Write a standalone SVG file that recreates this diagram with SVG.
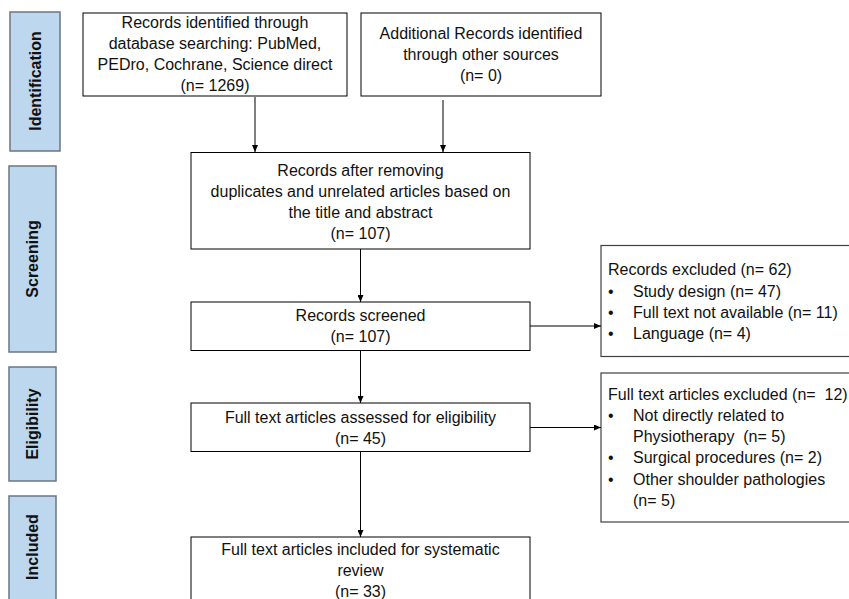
<svg xmlns="http://www.w3.org/2000/svg" width="849" height="599" viewBox="0 0 849 599">
<style>
.bx{fill:#fff;stroke:#000;stroke-width:1}
.ex{fill:#fff;stroke:#404040;stroke-width:1.2}
.side{fill:#BDD7EE;stroke:#6b7683;stroke-width:1.5}
.t{font-family:"Liberation Sans",Arial,sans-serif;font-size:16px;fill:#111;white-space:pre}
.c{text-anchor:middle}
.s{font-family:"Liberation Sans",Arial,sans-serif;font-size:16px;font-weight:bold;fill:#111;text-anchor:middle}
.cn{stroke:#000;stroke-width:1;fill:none;marker-end:url(#ah)}
</style>
<defs>
<marker id="ah" markerWidth="7" markerHeight="6" refX="7" refY="3" orient="auto" markerUnits="userSpaceOnUse">
<path d="M0,0 L7,3 L0,6 Z" fill="#000"/>
</marker>
</defs>
<rect width="849" height="599" fill="#fff"/>
<g id="stage-identification">
<rect class="side" x="10" y="12" width="50" height="139"/>
<text class="s" transform="translate(41,81) rotate(-90)">Identification</text>
</g>
<g id="stage-screening">
<rect class="side" x="9" y="166" width="47" height="186"/>
<text class="s" transform="translate(38,259) rotate(-90)">Screening</text>
</g>
<g id="stage-eligibility">
<rect class="side" x="9" y="367" width="47" height="114"/>
<text class="s" transform="translate(38,424) rotate(-90)">Eligibility</text>
</g>
<g id="stage-included">
<rect class="side" x="9" y="496" width="47" height="120"/>
<text class="s" transform="translate(38,547) rotate(-90)">Included</text>
</g>
<g id="db-records">
<rect class="bx" x="83" y="13" width="264" height="83"/>
<text class="t c" x="215" y="28">Records identified through</text>
<text class="t c" x="215" y="49">database searching: PubMed,</text>
<text class="t c" x="215" y="70">PEDro, Cochrane, Science direct</text>
<text class="t c" x="215" y="91">(n= 1269)</text>
</g>
<g id="other-records">
<rect class="bx" x="361" y="13" width="240" height="83"/>
<text class="t c" x="481" y="39">Additional Records identified</text>
<text class="t c" x="481" y="60">through other sources</text>
<text class="t c" x="481" y="81">(n= 0)</text>
</g>
<g id="after-removing">
<rect class="bx" x="191" y="152.5" width="339" height="96.5"/>
<text class="t c" x="360.5" y="176">Records after removing</text>
<text class="t c" x="360.5" y="197">duplicates and unrelated articles based on</text>
<text class="t c" x="360.5" y="218">the title and abstract</text>
<text class="t c" x="360.5" y="239">(n= 107)</text>
</g>
<g id="screened">
<rect class="bx" x="191" y="302" width="339" height="48.5"/>
<text class="t c" x="360.5" y="321">Records screened</text>
<text class="t c" x="360.5" y="342">(n= 107)</text>
</g>
<g id="excluded-1">
<rect class="ex" x="601" y="245.5" width="260" height="111"/>
<text class="t" x="608" y="275">Records excluded (n= 62)</text>
<text class="t" x="608" y="297">•</text><text class="t" x="633" y="297">Study design (n= 47)</text>
<text class="t" x="608" y="318">•</text><text class="t" x="633" y="318">Full text not available (n= 11)</text>
<text class="t" x="608" y="339">•</text><text class="t" x="633" y="339">Language (n= 4)</text>
</g>
<g id="assessed">
<rect class="bx" x="191" y="403" width="339" height="48.5"/>
<text class="t c" x="360.5" y="423">Full text articles assessed for eligibility</text>
<text class="t c" x="360.5" y="444">(n= 45)</text>
</g>
<g id="excluded-2">
<rect class="ex" x="601" y="373" width="260" height="149"/>
<text class="t" x="608" y="400">Full text articles excluded (n=  12)</text>
<text class="t" x="608" y="421">•</text><text class="t" x="633" y="421">Not directly related to</text>
<text class="t" x="633" y="442">Physiotherapy  (n= 5)</text>
<text class="t" x="608" y="463">•</text><text class="t" x="633" y="463">Surgical procedures (n= 2)</text>
<text class="t" x="608" y="485">•</text><text class="t" x="633" y="485">Other shoulder pathologies</text>
<text class="t" x="633" y="506">(n= 5)</text>
</g>
<g id="included">
<rect class="bx" x="191" y="537" width="339" height="80"/>
<text class="t c" x="360.5" y="555">Full text articles included for systematic</text>
<text class="t c" x="360.5" y="576">review</text>
<text class="t c" x="360.5" y="597">(n= 33)</text>
</g>
<g id="connectors">
<line class="cn" x1="255" y1="97" x2="255" y2="152"/>
<line class="cn" x1="443" y1="100" x2="443" y2="152"/>
<line class="cn" x1="360.5" y1="249" x2="360.5" y2="302"/>
<line class="cn" x1="360.5" y1="351" x2="360.5" y2="403"/>
<line class="cn" x1="360.5" y1="452" x2="360.5" y2="537"/>
<line class="cn" x1="530" y1="326" x2="601" y2="326"/>
<line class="cn" x1="530" y1="427.5" x2="601" y2="427.5"/>
</g>
</svg>
